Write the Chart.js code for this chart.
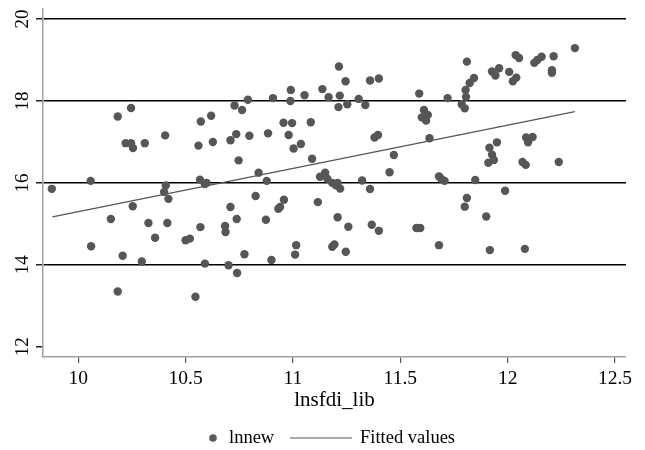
<!DOCTYPE html>
<html>
<head>
<meta charset="utf-8">
<script src="https://cdn.jsdelivr.net/npm/chart.js@4.4.0/dist/chart.umd.min.js"></script>
<style>
  body { margin: 0; background: #fff; }
</style>
</head>
<body>
<canvas id="scatterChart" width="645" height="450"></canvas>
<script>
// lnsfdi_lib (x) and lnnew (y)
var lnsfdi = [9.877, 10.058, 10.06, 10.152, 10.184, 10.184, 10.207, 10.221, 10.246, 10.255, 10.246, 10.254, 10.296, 10.31, 10.327, 10.358, 10.405, 10.408, 10.40, 10.42, 10.415, 10.5, 10.52, 10.546, 10.56, 10.571, 10.567, 10.569, 10.59, 10.598, 10.59, 10.619, 10.627, 10.70, 10.684, 10.686, 10.709, 10.709, 10.728, 10.736, 10.74, 10.738, 10.747, 10.763, 10.774, 10.79, 10.797, 10.826, 10.84, 10.874, 10.878, 10.884, 10.9, 10.907, 10.932, 10.94, 10.956, 10.958, 10.98, 10.99, 10.988, 10.996, 11.003, 11.01, 11.015, 11.037, 11.054, 11.083, 11.089, 11.116, 11.137, 11.126, 11.15, 11.16, 11.166, 11.183, 11.193, 11.183, 11.2, 11.208, 11.22, 11.208, 11.214, 11.218, 11.212, 11.245, 11.253, 11.246, 11.258, 11.306, 11.322, 11.337, 11.359, 11.359, 11.367, 11.38, 11.396, 11.4, 11.4, 11.45, 11.47, 11.575, 11.593, 11.588, 11.6, 11.61, 11.62, 11.628, 11.636, 11.68, 11.69, 11.706, 11.68, 11.72, 11.786, 11.8, 11.804, 11.806, 11.80, 11.81, 11.81, 11.823, 11.843, 11.849, 11.9, 11.91, 11.915, 11.927, 11.936, 11.917, 11.927, 11.943, 11.96, 11.95, 11.988, 12.007, 12.024, 12.04, 12.037, 12.053, 12.069, 12.084, 12.08, 12.086, 12.095, 12.116, 12.124, 12.138, 12.158, 12.206, 12.206, 12.214, 12.238, 12.313];
var lnnew = [15.855, 16.05, 14.455, 15.12, 17.62, 13.35, 14.22, 16.97, 16.97, 16.85, 17.83, 15.43, 14.08, 16.97, 15.02, 14.66, 17.16, 15.94, 15.78, 15.61, 15.02, 14.6, 14.64, 13.22, 16.91, 17.5, 16.08, 14.92, 14.03, 16.0, 15.97, 17.64, 17.0, 13.99, 14.95, 14.8, 15.41, 17.04, 17.89, 17.19, 13.8, 15.12, 16.55, 17.78, 14.26, 18.03, 17.15, 15.68, 16.25, 15.1, 16.05, 17.21, 14.12, 18.07, 15.37, 15.41, 17.47, 15.59, 17.17, 18.27, 18.0, 17.46, 16.84, 14.25, 14.48, 16.95, 18.14, 17.48, 16.59, 15.53, 18.29, 16.15, 16.25, 16.1, 18.09, 14.44, 14.5, 16.0, 15.94, 16.0, 15.86, 15.16, 18.84, 18.13, 17.85, 18.48, 17.92, 14.32, 14.93, 18.05, 16.06, 17.9, 18.5, 15.85, 14.98, 17.11, 17.17, 18.55, 14.83, 16.26, 16.68, 14.9, 14.9, 18.18, 17.6, 17.78, 17.52, 17.66, 17.09, 16.16, 16.1, 16.05, 14.48, 18.07, 17.92, 17.82, 18.27, 18.1, 15.42, 15.63, 18.96, 18.44, 18.56, 16.07, 15.18, 16.49, 16.86, 16.69, 16.56, 14.36, 18.72, 18.62, 18.8, 16.99, 15.81, 18.71, 18.48, 18.57, 19.12, 19.05, 16.51, 16.44, 14.39, 17.11, 16.99, 17.12, 18.93, 19.0, 19.08, 18.75, 18.69, 19.09, 16.51, 19.29];

// fitted line end points
var fitX = [9.88, 12.313];
var fitY = [15.17, 17.74];

var xTicks = [10, 10.5, 11, 11.5, 12, 12.5];
var yTicks = [12, 14, 16, 18, 20];

var serif = "'Liberation Serif', 'DejaVu Serif', serif";

var scatterPts = lnsfdi.map(function (x, i) { return { x: x, y: lnnew[i] }; });
var fitPts = fitX.map(function (x, i) { return { x: x, y: fitY[i] }; });

// legend drawn by hand, Stata style
var stataLegend = {
  id: "stataLegend",
  afterDraw: function (chart) {
    var ctx = chart.ctx;
    var y = 438;
    ctx.save();
    ctx.fillStyle = "#5a5a5a";
    ctx.beginPath();
    ctx.arc(213, y, 3.8, 0, Math.PI * 2);
    ctx.fill();
    ctx.strokeStyle = "#555";
    ctx.lineWidth = 1;
    ctx.beginPath();
    ctx.moveTo(290, y);
    ctx.lineTo(352, y);
    ctx.stroke();
    ctx.fillStyle = "#000";
    ctx.font = "18.5px " + serif;
    ctx.textBaseline = "middle";
    ctx.fillText("lnnew", 229, y);
    ctx.fillText("Fitted values", 360, y);
    ctx.restore();
  }
};

function plain(v) { return String(v); }

new Chart("scatterChart", {
  type: "scatter",
  data: {
    datasets: [
      {
        label: "lnnew",
        data: scatterPts,
        backgroundColor: "#565656",
        borderWidth: 0,
        pointRadius: 4.2,
        pointHoverRadius: 4.2,
      },
      {
        label: "Fitted values",
        type: "line",
        data: fitPts,
        borderColor: "#555",
        borderWidth: 1.2,
        pointRadius: 0,
        fill: false,
      },
    ],
  },
  plugins: [stataLegend],
  options: {
    responsive: false,
    animation: false,
    layout: { padding: { top: 9, right: 19, left: 0, bottom: 37 } },
    plugins: {
      legend: { display: false },
      tooltip: { enabled: false },
    },
    scales: {
      x: {
        type: "linear",
        min: 9.836,
        max: 12.551,
        afterBuildTicks: function (scale) {
          scale.ticks = xTicks.map(function (v) { return { value: v }; });
        },
        afterFit: function (scale) {
          scale.height = 56;
          scale.paddingLeft = 0;
          scale.paddingRight = 0;
        },
        border: { color: "#a0a0a0", width: 1.5 },
        grid: { drawOnChartArea: false, tickColor: "#555", tickLength: 6, lineWidth: 1.2 },
        ticks: { color: "#000", font: { family: serif, size: 19.5 }, padding: 4, maxRotation: 0, callback: plain },
        title: { display: true, text: "lnsfdi_lib", color: "#000", font: { family: serif, size: 21 }, padding: { top: 0, bottom: 0 } },
      },
      y: {
        min: 11.75,
        max: 20.245,
        afterBuildTicks: function (scale) {
          scale.ticks = yTicks.map(function (v) { return { value: v }; });
        },
        afterFit: function (scale) {
          scale.width = 43;
          scale.paddingTop = 0;
          scale.paddingBottom = 0;
        },
        border: { color: "#a0a0a0", width: 1.5 },
        grid: {
          color: function (c) { return c.tick && c.tick.value === 12 ? "rgba(0,0,0,0)" : "#000"; },
          tickColor: "#222",
          tickLength: 7,
          lineWidth: 1.5,
        },
        ticks: { color: "#000", font: { family: serif, size: 19 }, padding: 13, labelOffset: -9.5, minRotation: 90, maxRotation: 90, callback: plain },
      },
    },
  },
});
</script>
</body>
</html>
